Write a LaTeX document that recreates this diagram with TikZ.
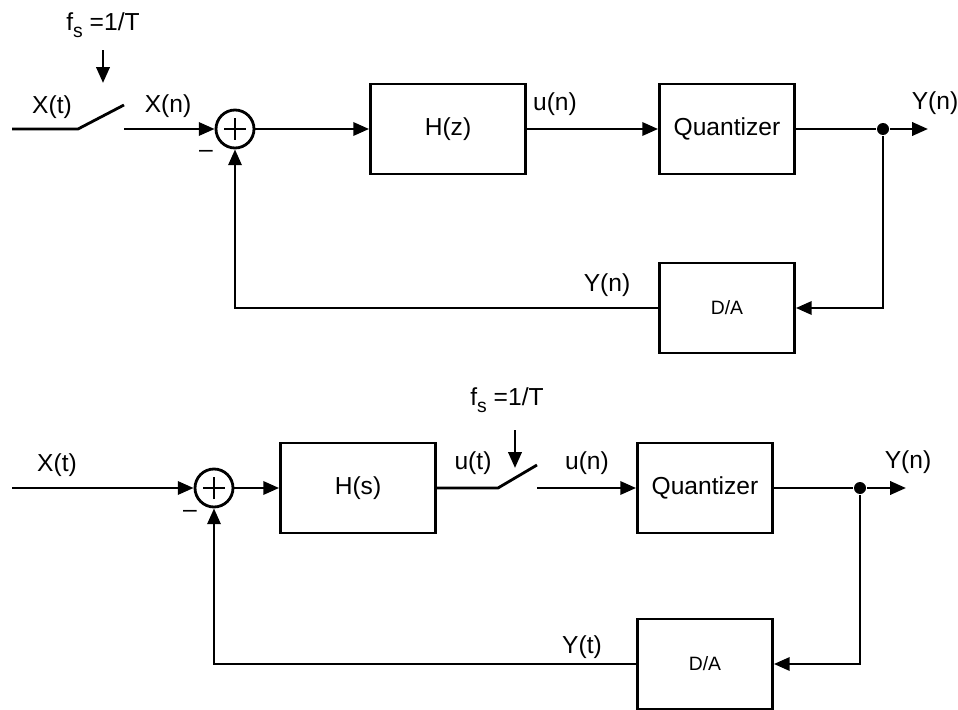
\documentclass[tikz,border=0pt]{standalone}
\usepackage{fontspec}
\setmainfont{Liberation Sans}
\usetikzlibrary{arrows.meta}

\begin{document}
\begin{tikzpicture}[x=0.02cm, y=-0.02cm, line width=1.6pt,
    >={Triangle[length=9pt, width=7.5pt]},
    font=\fontsize{14}{16}\selectfont]
  % Define styles
  \tikzstyle{block} = [draw, rectangle, minimum width=2.7cm, minimum height=1.8cm]
  \tikzstyle{wideblock} = [block, minimum width=3.1cm]
  \tikzstyle{sum} = [draw, circle, minimum size=0.76cm, inner sep=0pt]
  \tikzstyle{dot} = [fill, circle, minimum size=0.24cm, inner sep=0pt]
  \tikzstyle{lbl} = [inner sep=1pt]
  \newcommand{\fsrate}{f\raisebox{-0.5ex}{\fontsize{11}{12}\selectfont s} =1/T}

  \useasboundingbox (0,0) rectangle (958,710);

  % Upper loop: sampled input, H(z)
  \coordinate (xin1) at (12,129);
  \coordinate (swa1) at (78,129);
  \coordinate (swb1) at (124,105);
  \coordinate (swc1) at (124,129);
  \coordinate (clkt1) at (103,50);
  \coordinate (clkb1) at (103,83);
  \node[sum] (sum1) at (235,129) {};
  \node[wideblock] (hz) at (448,129) {H(z)};
  \node[block] (quant1) at (727,129) {Quantizer};
  \node[dot] (dot1) at (883,129) {};
  \coordinate (yout1) at (928,129);
  \node[block, font=\fontsize{11}{12}\selectfont] (dac1) at (727,308) {D/A};

  \draw ([xshift=-0.22cm]sum1.center) -- ([xshift=0.22cm]sum1.center);
  \draw ([yshift=-0.22cm]sum1.center) -- ([yshift=0.22cm]sum1.center);

  \draw (xin1) -- (swa1) -- (swb1);
  \draw[->] (clkt1) -- (clkb1);
  \draw[->] (swc1) -- (sum1);
  \draw[->] (sum1) -- (hz);
  \draw[->] (hz) -- (quant1);
  \draw (quant1) -- (dot1);
  \draw[->] (dot1) -- (yout1);
  \draw[->] (dot1) |- (dac1);
  \draw[->] (dac1) -| (sum1);

  \node[lbl] (fs1) at (103,25) {\fsrate};
  \node[lbl] (xt1) at (52,107) {X(t)};
  \node[lbl] (xn1) at (168,106) {X(n)};
  \node[lbl] (un1) at (555,104) {u(n)};
  \node[lbl] (yn1) at (935,103) {Y(n)};
  \node[lbl] (ynf1) at (607,285) {Y(n)};
  \node[lbl] (neg1) at (206,154) {--};

  % Lower loop: H(s), then sampling
  \coordinate (xin2) at (12,488);
  \coordinate (swa2) at (498,488);
  \coordinate (swb2) at (537,465);
  \coordinate (swc2) at (537,488);
  \coordinate (clkt2) at (515,430);
  \coordinate (clkb2) at (515,468);
  \node[sum] (sum2) at (214,488) {};
  \node[wideblock] (hs) at (358,488) {H(s)};
  \node[block] (quant2) at (705,488) {Quantizer};
  \node[dot] (dot2) at (860,488) {};
  \coordinate (yout2) at (906,488);
  \node[block, font=\fontsize{11}{12}\selectfont] (dac2) at (705,664) {D/A};

  \draw ([xshift=-0.22cm]sum2.center) -- ([xshift=0.22cm]sum2.center);
  \draw ([yshift=-0.22cm]sum2.center) -- ([yshift=0.22cm]sum2.center);

  \draw[->] (xin2) -- (sum2);
  \draw[->] (sum2) -- (hs);
  \draw (hs) -- (swa2) -- (swb2);
  \draw[->] (clkt2) -- (clkb2);
  \draw[->] (swc2) -- (quant2);
  \draw (quant2) -- (dot2);
  \draw[->] (dot2) -- (yout2);
  \draw[->] (dot2) |- (dac2);
  \draw[->] (dac2) -| (sum2);

  \node[lbl] (fs2) at (507,400) {\fsrate};
  \node[lbl] (xt2) at (57,465) {X(t)};
  \node[lbl] (ut2) at (473,463) {u(t)};
  \node[lbl] (un2) at (587,463) {u(n)};
  \node[lbl] (yn2) at (908,462) {Y(n)};
  \node[lbl] (ytf2) at (582,647) {Y(t)};
  \node[lbl] (neg2) at (190,514) {--};
\end{tikzpicture}
\end{document}
